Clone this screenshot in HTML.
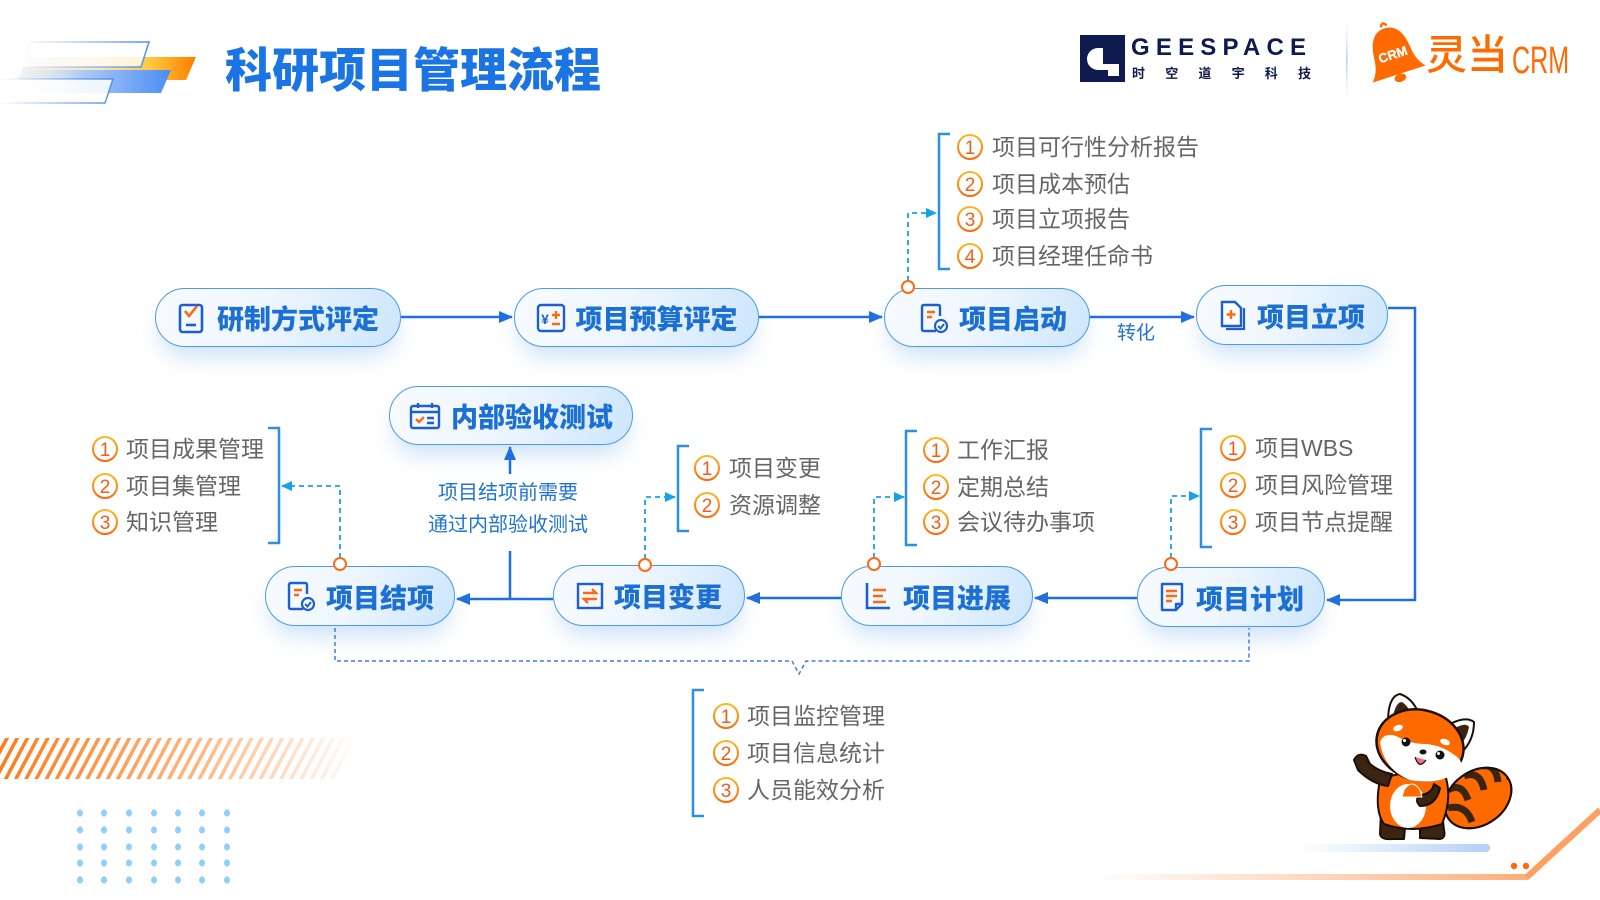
<!DOCTYPE html>
<html><head><meta charset="utf-8">
<style>
*{margin:0;padding:0;box-sizing:border-box}
html,body{width:1600px;height:900px;overflow:hidden;background:#fff}
body{position:relative;font-family:"Liberation Sans","Noto Sans CJK SC",sans-serif}
.pill{position:absolute;border:1.5px solid #4b9be4;border-radius:31px;background:linear-gradient(105deg,#f8fbff 0%,#eef6fe 45%,#cde6fc 100%);box-shadow:0 14px 24px -6px rgba(110,170,235,.38);display:flex;align-items:center;justify-content:center;gap:10px;font-weight:900;font-size:27px;color:#1c70d4;z-index:1;white-space:nowrap}
.pill svg{flex:none}
.it{position:absolute;font-size:23px;color:#666;line-height:30px;white-space:nowrap;z-index:3}
.bl{position:absolute;font-size:20px;color:#1f74d4;line-height:24px;white-space:nowrap;z-index:3}
svg.full{position:absolute;left:0;top:0}
</style></head>
<body>

<svg class="full" width="1600" height="900" style="z-index:0">
<defs>
<linearGradient id="gOr" x1="0" x2="1" y1="0" y2="0"><stop offset="0" stop-color="#f1f1f1"/><stop offset=".45" stop-color="#fbe6b8"/><stop offset=".75" stop-color="#ffc83a"/><stop offset="1" stop-color="#ff7c00"/></linearGradient>
<linearGradient id="gBl" x1="0" x2="1" y1="0" y2="0"><stop offset="0" stop-color="#ffffff" stop-opacity="0"/><stop offset=".5" stop-color="#a8c8f8"/><stop offset="1" stop-color="#4c8cf5"/></linearGradient>
<linearGradient id="gSt" x1="0" x2="1" y1="0" y2="0"><stop offset="0" stop-color="#4f8ff5" stop-opacity="0"/><stop offset="1" stop-color="#4f8ff5"/></linearGradient>
<pattern id="stripes" width="9" height="60" patternUnits="userSpaceOnUse" patternTransform="rotate(28)"><rect x="0" y="0" width="3.5" height="60" fill="#ff7a1a"/></pattern>
<linearGradient id="fadeR" x1="0" x2="1"><stop offset="0" stop-color="#fff"/><stop offset=".55" stop-color="#fff" stop-opacity=".55"/><stop offset="1" stop-color="#fff" stop-opacity="0"/></linearGradient>
<mask id="mFade"><rect x="0" y="730" width="360" height="55" fill="url(#fadeR)"/></mask>
<linearGradient id="gLine" x1="0" x2="1"><stop offset="0" stop-color="#ffa66b" stop-opacity="0"/><stop offset="1" stop-color="#ffa060"/></linearGradient>
<linearGradient id="gShadow" x1="0" x2="1"><stop offset="0" stop-color="#b8d4f8" stop-opacity="0"/><stop offset="1" stop-color="#b3d0f7"/></linearGradient>
<linearGradient id="gSep" x1="0" x2="0" y1="0" y2="1"><stop offset="0" stop-color="#cfe4f8" stop-opacity="0"/><stop offset=".5" stop-color="#a9cff2"/><stop offset="1" stop-color="#cfe4f8" stop-opacity="0"/></linearGradient>
<clipPath id="tailclip"><ellipse cx="1478" cy="798" rx="36" ry="27" transform="rotate(-35 1478 798)"/></clipPath>
</defs>

<polygon points="28,57 196,57 186,80 18,80" fill="url(#gOr)"/>
<polygon points="30,42 149,42 141,67 22,67" fill="#fff" fill-opacity=".75" stroke="url(#gSt)" stroke-width="1.5"/>
<polygon points="0,70 171,70 161,93 0,93" fill="url(#gBl)"/>
<polygon points="0,79 113,79 105,103 0,103" fill="#fff" fill-opacity=".85" stroke="url(#gSt)" stroke-width="1.5"/>

<g mask="url(#mFade)"><polygon points="0,738 356,738 340,779 0,779" fill="url(#stripes)"/></g>

<g fill="#8fd0fb">
<ellipse cx="80" cy="813" rx="3" ry="3.6"/><ellipse cx="104" cy="813" rx="3" ry="3.6"/><ellipse cx="129" cy="813" rx="3" ry="3.6"/><ellipse cx="154" cy="813" rx="3" ry="3.6"/><ellipse cx="178" cy="813" rx="3" ry="3.6"/><ellipse cx="202" cy="813" rx="3" ry="3.6"/><ellipse cx="227" cy="813" rx="3" ry="3.6"/>
<ellipse cx="80" cy="830" rx="3" ry="3.6"/><ellipse cx="104" cy="830" rx="3" ry="3.6"/><ellipse cx="129" cy="830" rx="3" ry="3.6"/><ellipse cx="154" cy="830" rx="3" ry="3.6"/><ellipse cx="178" cy="830" rx="3" ry="3.6"/><ellipse cx="202" cy="830" rx="3" ry="3.6"/><ellipse cx="227" cy="830" rx="3" ry="3.6"/>
<ellipse cx="80" cy="847" rx="3" ry="3.6"/><ellipse cx="104" cy="847" rx="3" ry="3.6"/><ellipse cx="129" cy="847" rx="3" ry="3.6"/><ellipse cx="154" cy="847" rx="3" ry="3.6"/><ellipse cx="178" cy="847" rx="3" ry="3.6"/><ellipse cx="202" cy="847" rx="3" ry="3.6"/><ellipse cx="227" cy="847" rx="3" ry="3.6"/>
<ellipse cx="80" cy="863" rx="3" ry="3.6"/><ellipse cx="104" cy="863" rx="3" ry="3.6"/><ellipse cx="129" cy="863" rx="3" ry="3.6"/><ellipse cx="154" cy="863" rx="3" ry="3.6"/><ellipse cx="178" cy="863" rx="3" ry="3.6"/><ellipse cx="202" cy="863" rx="3" ry="3.6"/><ellipse cx="227" cy="863" rx="3" ry="3.6"/>
<ellipse cx="80" cy="880" rx="3" ry="3.6"/><ellipse cx="104" cy="880" rx="3" ry="3.6"/><ellipse cx="129" cy="880" rx="3" ry="3.6"/><ellipse cx="154" cy="880" rx="3" ry="3.6"/><ellipse cx="178" cy="880" rx="3" ry="3.6"/><ellipse cx="202" cy="880" rx="3" ry="3.6"/><ellipse cx="227" cy="880" rx="3" ry="3.6"/>
</g>

<path d="M1090,877 H1527 L1600,810" fill="none" stroke="url(#gLine)" stroke-width="6"/>
<path d="M1527,877 L1600,810" fill="none" stroke="#ffa060" stroke-width="6"/>
<circle cx="1514" cy="866" r="3.2" fill="#ff6a10"/><circle cx="1526" cy="866" r="3.2" fill="#ff6a10"/>
<rect x="1298" y="844" width="192" height="8" rx="4" fill="url(#gShadow)"/>

<rect x="1346" y="22" width="1.5" height="76" fill="url(#gSep)"/>

<rect x="1080" y="35" width="45" height="47" fill="#0f1b4e"/>
<path d="M1098,48 A11,11 0 0 0 1098,70 L1108,70 L1108,76 L1119,76 L1119,64 L1103,64 L1103,48 Z" fill="#fff"/>

<g transform="translate(1393,55) rotate(-18)">
<path d="M-3,-30 Q0,-36 3,-30" fill="none" stroke="#ff6a00" stroke-width="2.5"/>
<path d="M0,-28 C-14,-28 -18,-14 -19,-2 C-20,10 -24,16 -28,20 L28,20 C24,16 20,10 19,-2 C18,-14 14,-28 0,-28 Z" fill="#ff6a00"/>
<ellipse cx="0" cy="24" rx="6" ry="4" fill="#ff6a00"/>
<text x="0" y="4" text-anchor="middle" font-family="Liberation Sans" font-weight="700" font-size="13" fill="#fff" stroke="#fff" stroke-width=".3">CRM</text>
</g>

<!-- Panda -->
<g stroke="#1b0f05" stroke-width="2" stroke-linejoin="round">
 <ellipse cx="1478" cy="798" rx="36" ry="27" transform="rotate(-35 1478 798)" fill="#ff6a00"/>
 <g clip-path="url(#tailclip)" fill="none" stroke="#3c2412" stroke-width="7">
  <path d="M1448,790 q14,-8 20,10"/>
  <path d="M1464,776 q16,-6 20,14"/>
  <path d="M1482,766 q14,-2 16,16"/>
  <path d="M1500,764 q10,4 10,16"/>
  <path d="M1448,808 q18,-4 24,14"/>
 </g>
 <ellipse cx="1478" cy="798" rx="36" ry="27" transform="rotate(-35 1478 798)" fill="none"/>
 <path d="M1381,812 L1380,834 Q1381,840 1392,839 L1404,839 L1406,816 Z" fill="#3c2412"/>
 <path d="M1420,816 L1420,838 L1440,839 Q1446,838 1444,830 L1442,812 Z" fill="#3c2412"/>
 <path d="M1380,780 Q1374,810 1384,824 Q1412,834 1442,824 Q1452,800 1446,778 Q1412,766 1380,780 Z" fill="#ff6a00"/>
 <ellipse cx="1408" cy="806" rx="18" ry="22" fill="#fff" stroke="none"/>
 <path d="M1388,786 Q1372,784 1358,770 L1354,760 Q1358,752 1366,756 L1370,764 Q1380,772 1392,774 Z" fill="#3c2412"/>
 <path d="M1440,788 Q1436,806 1420,806 Q1414,800 1420,795 Q1432,794 1434,784 Z" fill="#3c2412"/>
 <path d="M1404,790 Q1412,778 1420,790 L1422,797 L1402,797 Z" fill="#ff6a00" stroke="#fff" stroke-width="1"/>
 <path d="M1388,722 Q1388,696 1400,694 Q1412,698 1418,712 Z" fill="#fff"/>
 <path d="M1393,716 Q1396,702 1402,702 Q1408,706 1410,712 Z" fill="#3c2412" stroke="none"/>
 <path d="M1450,724 Q1466,716 1474,722 Q1474,740 1462,752 Z" fill="#fff"/>
 <path d="M1455,728 Q1466,722 1469,727 Q1467,738 1461,744 Z" fill="#3c2412" stroke="none"/>
 <ellipse cx="1420" cy="745" rx="44" ry="35" transform="rotate(14 1420 745)" fill="#ff6a00" stroke-width="2.5"/>
 <path d="M1380,742 Q1384,732 1396,736 Q1410,744 1424,744 Q1440,744 1456,756 Q1464,762 1460,770 Q1440,786 1410,780 Q1384,770 1380,742 Z" fill="#fff" stroke="none"/>
 <ellipse cx="1398" cy="728" rx="5" ry="3" fill="#fff" stroke="none" transform="rotate(-20 1398 728)"/>
 <ellipse cx="1445" cy="742" rx="5" ry="3" fill="#fff" stroke="none" transform="rotate(20 1445 742)"/>
 <circle cx="1406" cy="742" r="4.5" fill="#111" stroke="none"/><circle cx="1404.5" cy="740.5" r="1.5" fill="#fff" stroke="none"/>
 <circle cx="1440" cy="755" r="4.5" fill="#111" stroke="none"/><circle cx="1438.5" cy="753.5" r="1.5" fill="#fff" stroke="none"/>
 <ellipse cx="1423" cy="752" rx="3.5" ry="2.5" fill="#111" stroke="none"/>
 <path d="M1415,757 Q1419,770 1426,760" fill="#f06a8a" stroke="#1b0f05" stroke-width="1.2"/>
</g>
</svg>

<div style="position:absolute;left:225px;top:45px;font-size:47px;line-height:52px;font-weight:900;color:#1b74e4;white-space:nowrap;z-index:2">科研项目管理流程</div>

<div style="position:absolute;left:1131px;top:34px;font-family:'Liberation Sans',sans-serif;font-weight:700;font-size:24px;line-height:28px;letter-spacing:6.2px;color:#0f1b4e;white-space:nowrap;z-index:2">GEESPACE</div>
<div style="position:absolute;left:1132px;top:66px;font-weight:700;font-size:13px;line-height:16px;letter-spacing:20.2px;color:#0f1b4e;white-space:nowrap;z-index:2">时空道宇科技</div>

<div style="position:absolute;left:1426px;top:31px;font-size:41px;line-height:48px;font-weight:500;color:#ff6a00;white-space:nowrap;z-index:2">灵当</div>
<div style="position:absolute;left:1512px;top:40px;font-family:'Liberation Sans',sans-serif;font-size:38px;line-height:42px;color:#ff6a00;white-space:nowrap;transform:scaleX(.66);transform-origin:0 0;z-index:2">CRM</div>

<div class="pill" style="left:155px;top:288px;width:246px;height:59px">
<svg width="30" height="32" viewBox="0 0 30 32"><rect x="3" y="3" width="22" height="27" rx="2.5" fill="none" stroke="#1e5fd0" stroke-width="2.6"/><path d="M8,9 L12,14 L20,4" fill="none" stroke="#ff6a10" stroke-width="2.6"/><path d="M9,23 H19" stroke="#1e5fd0" stroke-width="2.6"/></svg>
<span>研制方式评定</span></div>

<div class="pill" style="left:514px;top:288px;width:245px;height:59px">
<svg width="30" height="30" viewBox="0 0 30 30"><rect x="2" y="2" width="26" height="26" rx="3" fill="none" stroke="#1e5fd0" stroke-width="2.4"/><text x="9" y="21" text-anchor="middle" font-family="Liberation Sans" font-weight="700" font-size="14" fill="#1e5fd0">¥</text><path d="M20,8 V16 M16,12 H24 M16,21 H24" stroke="#ff6a10" stroke-width="2.4"/></svg>
<span>项目预算评定</span></div>

<div class="pill" style="left:884px;top:288px;width:206px;height:59px;padding-left:12px">
<svg width="30" height="32" viewBox="0 0 30 32"><path d="M17,29 H5 Q3,29 3,27 V5 Q3,3 5,3 H19 Q21,3 21,5 V14" fill="none" stroke="#1e5fd0" stroke-width="2.4"/><path d="M8,10 H16 M8,15 H13" stroke="#ff6a10" stroke-width="2.4"/><circle cx="22" cy="24" r="6" fill="#fff" stroke="#1e5fd0" stroke-width="2.2"/><path d="M19,24 L21.5,26.5 L25,22" fill="none" stroke="#1e5fd0" stroke-width="2"/></svg>
<span>项目启动</span></div>

<div class="pill" style="left:1196px;top:285px;width:192px;height:60px">
<svg width="28" height="32" viewBox="0 0 28 32"><path d="M7,30 H25 V9" fill="none" stroke="#1e5fd0" stroke-width="2.2"/><path d="M3,3 H16 L22,9 V27 H3 Z" fill="#fff" stroke="#1e5fd0" stroke-width="2.4"/><path d="M12,11 V20 M7.5,15.5 H16.5" stroke="#ff6a10" stroke-width="2.4"/></svg>
<span>项目立项</span></div>

<div class="pill" style="left:1137px;top:567px;width:188px;height:60px">
<svg width="28" height="32" viewBox="0 0 28 32"><path d="M18,29 H4 V3 H24 V23 Z M18,29 V23 H24" fill="none" stroke="#1e5fd0" stroke-width="2.4" stroke-linejoin="round"/><path d="M8,10 H19 M8,15 H19 M8,20 H14" stroke="#ff6a10" stroke-width="2.4"/></svg>
<span>项目计划</span></div>

<div class="pill" style="left:841px;top:566px;width:192px;height:60px">
<svg width="30" height="30" viewBox="0 0 30 30"><path d="M4,2 V27 H27" fill="none" stroke="#1e5fd0" stroke-width="2.6"/><path d="M10,9 H23 M10,15 H20 M10,21 H23" stroke="#ff6a10" stroke-width="2.6"/></svg>
<span>项目进展</span></div>

<div class="pill" style="left:553px;top:565px;width:192px;height:61px">
<svg width="28" height="28" viewBox="0 0 28 28"><rect x="2" y="2" width="24" height="24" fill="none" stroke="#1e5fd0" stroke-width="2.4"/><path d="M7,11 H20 L16,7 M21,17 H8 L12,21" fill="none" stroke="#ff6a10" stroke-width="2.4"/></svg>
<span>项目变更</span></div>

<div class="pill" style="left:265px;top:566px;width:190px;height:60px">
<svg width="30" height="32" viewBox="0 0 30 32"><path d="M17,29 H5 Q3,29 3,27 V5 Q3,3 5,3 H19 Q21,3 21,5 V14" fill="none" stroke="#1e5fd0" stroke-width="2.4"/><path d="M8,10 H16 M8,15 H13" stroke="#ff6a10" stroke-width="2.4"/><circle cx="22" cy="24" r="6" fill="#fff" stroke="#1e5fd0" stroke-width="2.2"/><path d="M19,24 L21.5,26.5 L25,22" fill="none" stroke="#1e5fd0" stroke-width="2"/></svg>
<span>项目结项</span></div>

<div class="pill" style="left:389px;top:386px;width:244px;height:59px">
<svg width="32" height="28" viewBox="0 0 32 28"><rect x="2" y="4" width="28" height="22" rx="2" fill="none" stroke="#1e5fd0" stroke-width="2.4"/><path d="M2,10 H30 M9,1 V6 M23,1 V6" stroke="#1e5fd0" stroke-width="2.4"/><path d="M7,17 L10,20 L15,15" fill="none" stroke="#ff6a10" stroke-width="2.4"/><path d="M18,16 H25 M18,21 H25" stroke="#1e5fd0" stroke-width="2.4"/></svg>
<span>内部验收测试</span></div>

<svg class="full" width="1600" height="900" style="z-index:2">
<defs>
<marker id="ma" markerUnits="userSpaceOnUse" markerWidth="14" markerHeight="12" refX="13" refY="6" orient="auto"><path d="M0,0 L14,6 L0,12 Z" fill="#1f6fe0"/></marker>
<marker id="mc" markerUnits="userSpaceOnUse" markerWidth="11" markerHeight="10" refX="10" refY="5" orient="auto"><path d="M0,0 L11,5 L0,10 Z" fill="#16a2e6"/></marker>
<linearGradient id="og" x1="0" y1="0" x2="0" y2="1"><stop offset="0" stop-color="#ffb51f"/><stop offset="1" stop-color="#ff6a10"/></linearGradient>
</defs>
<g fill="none" stroke="#1f6fe0" stroke-width="2.5">
<path d="M401,317 H512" marker-end="url(#ma)"/>
<path d="M759,317 H882" marker-end="url(#ma)"/>
<path d="M1090,317 H1194" marker-end="url(#ma)"/>
<path d="M1388,308 H1415 V600 H1327" marker-end="url(#ma)"/>
<path d="M1137,598 H1035" marker-end="url(#ma)"/>
<path d="M841,598 H747" marker-end="url(#ma)"/>
<path d="M553,599 H457" marker-end="url(#ma)"/>
<path d="M510,599 V551"/>
<path d="M510,474 V447" marker-end="url(#ma)"/>
</g>
<g fill="none" stroke="#16a2e6" stroke-width="1.8" stroke-dasharray="5 4">
<path d="M908,281 V213 H936" marker-end="url(#mc)"/>
<path d="M340,558 V486 H282" marker-end="url(#mc)"/>
<path d="M645,559 V497 H675" marker-end="url(#mc)"/>
<path d="M874,558 V497 H904" marker-end="url(#mc)"/>
<path d="M1171,558 V496 H1199" marker-end="url(#mc)"/>
</g>
<path d="M335,628 V661 H792 L799,674 L806,661 H1249 V628" fill="none" stroke="#3d80d8" stroke-width="1.5" stroke-dasharray="4 3"/>
<g fill="#fff" stroke="#ff6a10" stroke-width="2">
<circle cx="908" cy="287" r="6"/><circle cx="340" cy="564" r="6"/><circle cx="645" cy="565" r="6"/><circle cx="874" cy="564" r="6"/><circle cx="1171" cy="564" r="6"/>
</g>
<g fill="none" stroke="#2b8fe2" stroke-width="2.5">
<path d="M950,134 H939 V269 H950"/>
<path d="M268,428 H279 V543 H268"/>
<path d="M689,446 H678 V531 H689"/>
<path d="M917,431 H906 V545 H917"/>
<path d="M1212,429 H1201 V547 H1212"/>
<path d="M704,690 H693 V816 H704"/>
</g>
<g font-family="Liberation Sans" font-size="19" fill="#f25c19" text-anchor="middle">
<g fill="#fff" stroke="url(#og)" stroke-width="2">
<circle cx="970" cy="147" r="12"/><circle cx="970" cy="184" r="12"/><circle cx="970" cy="219" r="12"/><circle cx="970" cy="256" r="12"/>
<circle cx="105" cy="449" r="12"/><circle cx="105" cy="486" r="12"/><circle cx="105" cy="522" r="12"/>
<circle cx="707" cy="468" r="12"/><circle cx="707" cy="505" r="12"/>
<circle cx="936" cy="450" r="12"/><circle cx="936" cy="487" r="12"/><circle cx="936" cy="522" r="12"/>
<circle cx="1233" cy="448" r="12"/><circle cx="1233" cy="485" r="12"/><circle cx="1233" cy="522" r="12"/>
<circle cx="726" cy="716" r="12"/><circle cx="726" cy="753" r="12"/><circle cx="726" cy="790" r="12"/>
</g>
<text x="970" y="154">1</text><text x="970" y="191">2</text><text x="970" y="226">3</text><text x="970" y="263">4</text>
<text x="105" y="456">1</text><text x="105" y="493">2</text><text x="105" y="529">3</text>
<text x="707" y="475">1</text><text x="707" y="512">2</text>
<text x="936" y="457">1</text><text x="936" y="494">2</text><text x="936" y="529">3</text>
<text x="1233" y="455">1</text><text x="1233" y="492">2</text><text x="1233" y="529">3</text>
<text x="726" y="723">1</text><text x="726" y="760">2</text><text x="726" y="797">3</text>
</g>
</svg>

<div class="it" style="left:992px;top:132px">项目可行性分析报告</div>
<div class="it" style="left:992px;top:169px">项目成本预估</div>
<div class="it" style="left:992px;top:204px">项目立项报告</div>
<div class="it" style="left:992px;top:241px">项目经理任命书</div>

<div class="it" style="left:126px;top:434px">项目成果管理</div>
<div class="it" style="left:126px;top:471px">项目集管理</div>
<div class="it" style="left:126px;top:507px">知识管理</div>

<div class="it" style="left:729px;top:453px">项目变更</div>
<div class="it" style="left:729px;top:490px">资源调整</div>

<div class="it" style="left:957px;top:435px">工作汇报</div>
<div class="it" style="left:957px;top:472px">定期总结</div>
<div class="it" style="left:957px;top:507px">会议待办事项</div>

<div class="it" style="left:1255px;top:433px">项目WBS</div>
<div class="it" style="left:1255px;top:470px">项目风险管理</div>
<div class="it" style="left:1255px;top:507px">项目节点提醒</div>

<div class="it" style="left:747px;top:701px">项目监控管理</div>
<div class="it" style="left:747px;top:738px">项目信息统计</div>
<div class="it" style="left:747px;top:775px">人员能效分析</div>

<div class="bl" style="left:1117px;top:322px;font-size:19px">转化</div>
<div class="bl" style="left:438px;top:481px">项目结项前需要</div>
<div class="bl" style="left:428px;top:513px">通过内部验收测试</div>

</body></html>
